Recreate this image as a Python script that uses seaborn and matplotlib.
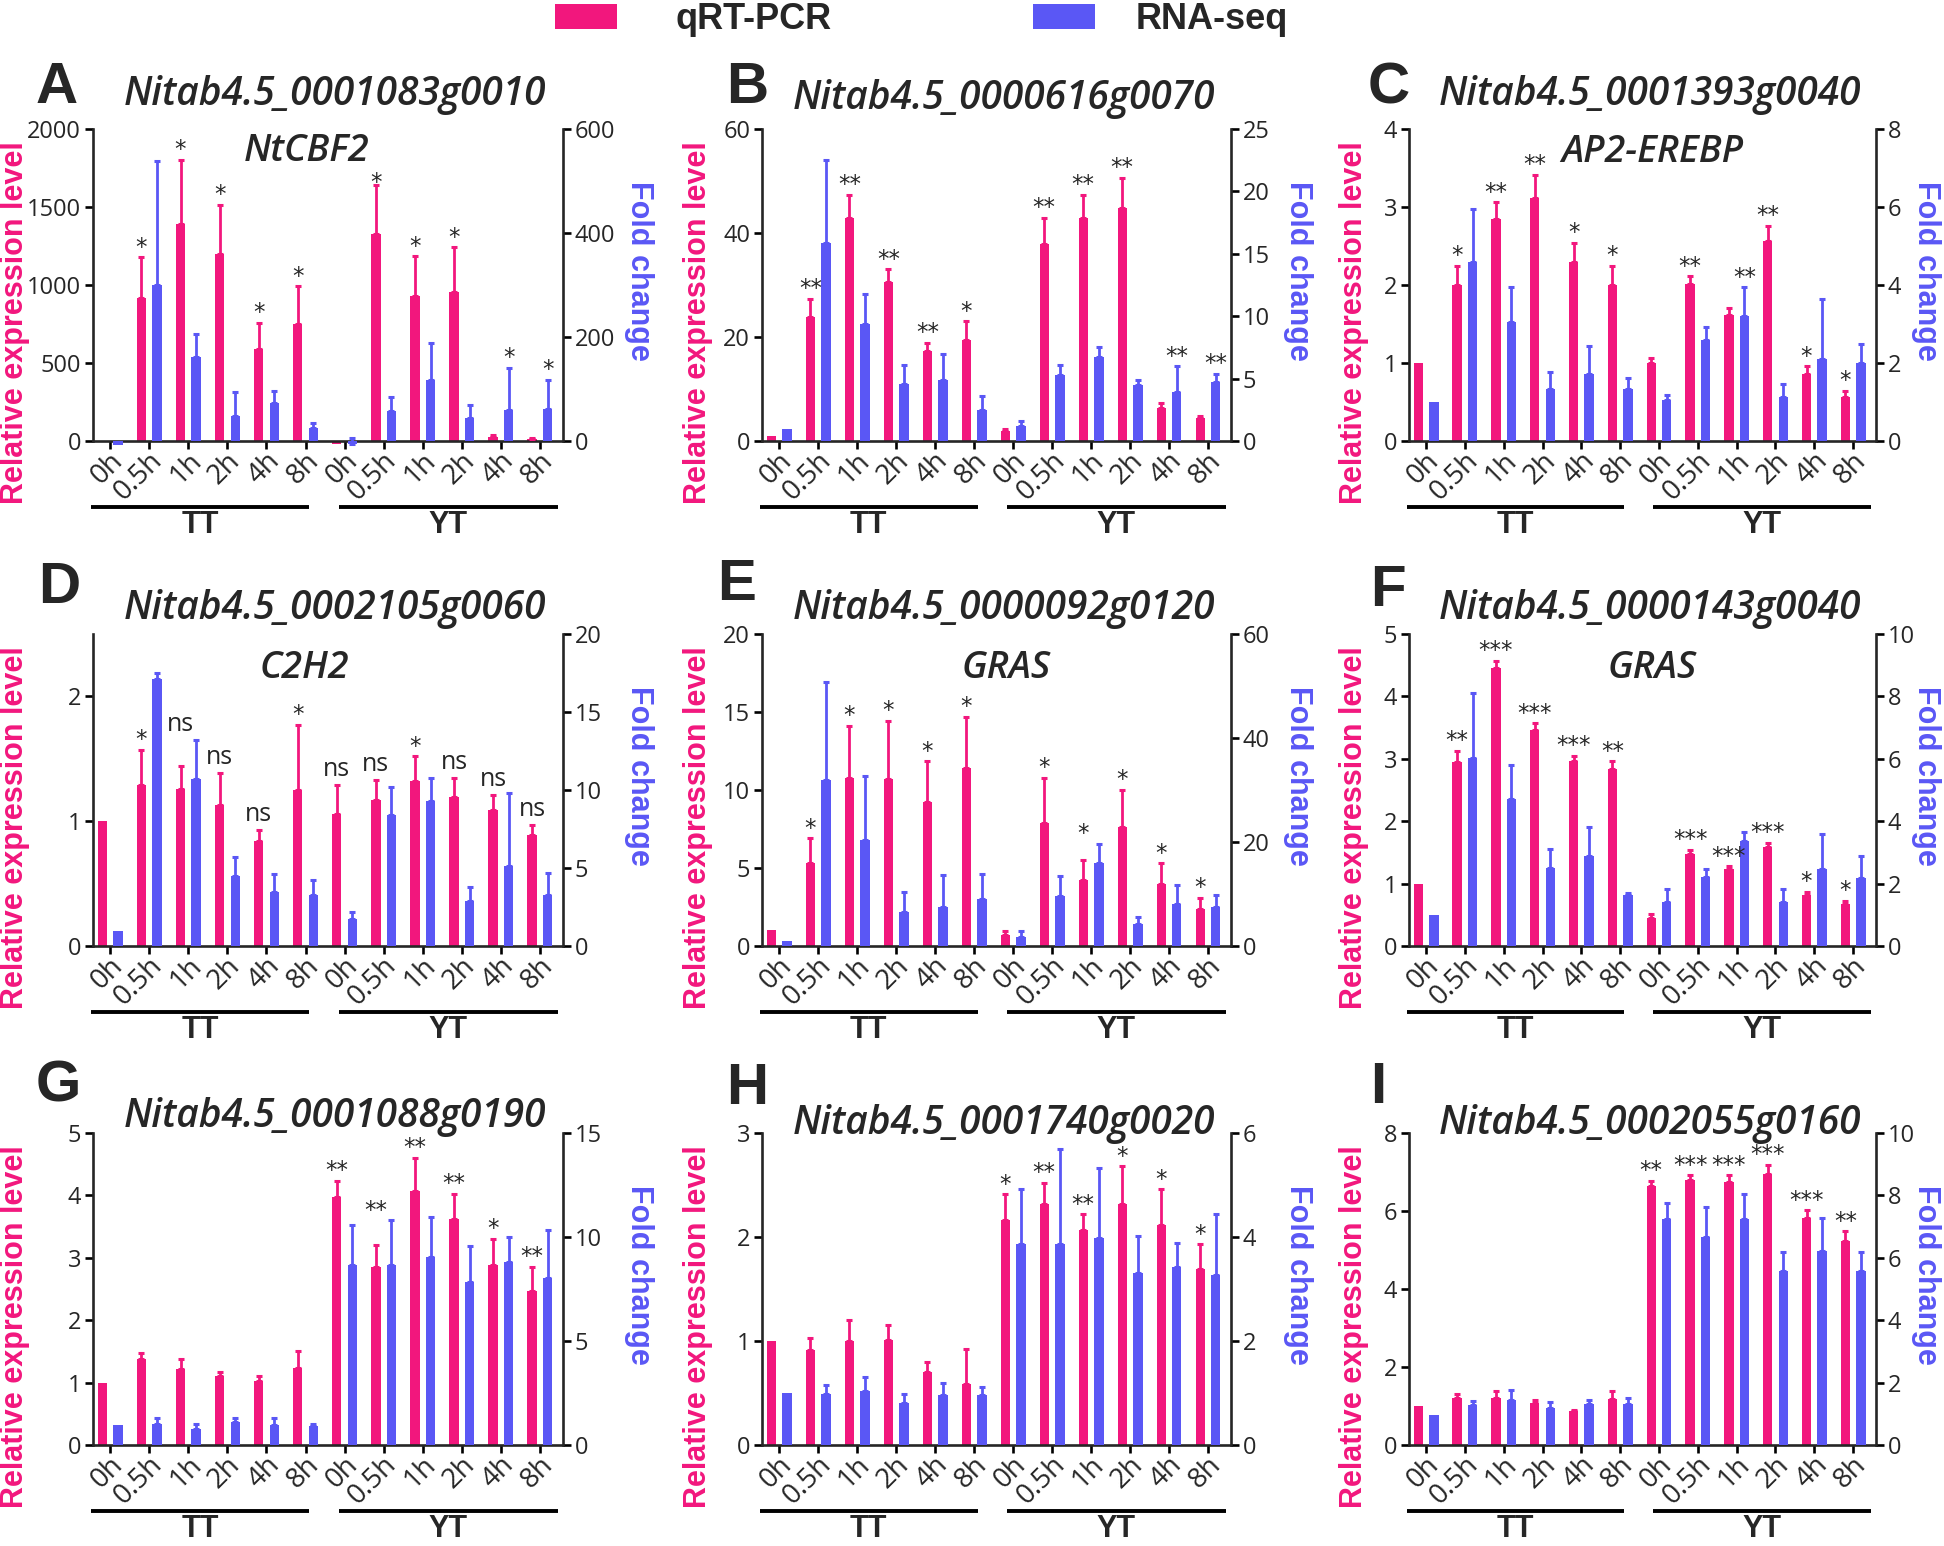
import numpy as np
import pandas as pd
import matplotlib
matplotlib.use("Agg")
import matplotlib.pyplot as plt
import matplotlib.transforms as mtransforms
from matplotlib import font_manager
from matplotlib.patches import Patch
import seaborn as sns

# ---------------- data ----------------
times = ["0h", "0.5h", "1h", "2h", "4h", "8h"]
groups = ["TT", "YT"]
series = ["qRT-PCR", "RNA-seq"]

A_gene, A_name = "Nitab4.5_0001083g0010", "NtCBF2"
A_qpcr = [1, 915, 1392, 1200, 588, 749, -20, 1324, 928, 955, 26, 11]
A_qpcr_err = [0, 263, 411, 314, 170, 243, 0, 316, 257, 287, 14, 7]
A_rna = [-8, 300, 162, 48, 74, 25, -6, 58, 118, 44, 60, 61]
A_rna_err = [0, 238, 43, 47, 22, 9, 11, 26, 70, 26, 81, 57]
A_sig = ["", "*", "*", "*", "*", "*", "", "*", "*", "*", "*", "*"]
A_ref = "qqqqqqqlqqrr"

B_gene, B_name = "Nitab4.5_0000616g0070", ""
B_qpcr = [1.0, 23.9, 42.8, 30.5, 17.4, 19.5, 1.9, 37.9, 42.8, 44.8, 6.4, 4.5]
B_qpcr_err = [0, 3.5, 4.6, 2.5, 1.5, 3.5, 0.4, 5.0, 4.6, 5.8, 0.9, 0.3]
B_rna = [1.0, 15.9, 9.4, 4.6, 4.9, 2.5, 1.2, 5.3, 6.7, 4.5, 3.9, 4.7]
B_rna_err = [0, 6.6, 2.4, 1.5, 2.1, 1.1, 0.4, 0.8, 0.8, 0.4, 2.1, 0.7]
B_sig = ["", "**", "**", "**", "**", "*", "", "**", "**", "**", "**", "**"]
B_ref = "qqqqqqqqqqrr"

C_gene, C_name = "Nitab4.5_0001393g0040", "AP2-EREBP"
C_qpcr = [1.0, 2.0, 2.85, 3.11, 2.3, 2.0, 1.0, 2.01, 1.62, 2.56, 0.86, 0.56]
C_qpcr_err = [0, 0.25, 0.21, 0.3, 0.24, 0.25, 0.07, 0.1, 0.09, 0.2, 0.1, 0.08]
C_rna = [1.0, 4.58, 3.06, 1.34, 1.72, 1.34, 1.05, 2.6, 3.21, 1.14, 2.1, 1.99]
C_rna_err = [0, 1.37, 0.88, 0.42, 0.71, 0.27, 0.13, 0.32, 0.73, 0.33, 1.55, 0.5]
C_sig = ["", "*", "**", "**", "*", "*", "", "**", "**", "**", "*", "*"]
C_ref = "qqqqqqqqrqqq"

D_gene, D_name = "Nitab4.5_0002105g0060", "C2H2"
D_qpcr = [1.0, 1.29, 1.26, 1.13, 0.84, 1.25, 1.06, 1.17, 1.32, 1.19, 1.09, 0.89]
D_qpcr_err = [0, 0.28, 0.18, 0.26, 0.09, 0.52, 0.23, 0.16, 0.2, 0.16, 0.12, 0.08]
D_rna = [0.95, 17.1, 10.7, 4.5, 3.45, 3.3, 1.74, 8.4, 9.3, 2.9, 5.1, 3.3]
D_rna_err = [0, 0.4, 2.5, 1.2, 1.15, 0.9, 0.43, 1.8, 1.5, 0.9, 4.7, 1.35]
D_sig = ["", "*", "ns", "ns", "ns", "*", "ns", "ns", "*", "ns", "ns", "ns"]
D_ref = "qqmqqqqqqqqq"

E_gene, E_name = "Nitab4.5_0000092g0120", "GRAS"
E_qpcr = [1.0, 5.3, 10.8, 10.7, 9.2, 11.4, 0.68, 7.9, 4.2, 7.6, 4.0, 2.35]
E_qpcr_err = [0, 1.6, 3.3, 3.75, 2.65, 3.3, 0.26, 2.9, 1.3, 2.4, 1.3, 0.75]
E_rna = [0.96, 31.9, 20.3, 6.5, 7.5, 9.1, 1.7, 9.6, 15.9, 4.3, 8.0, 7.5]
E_rna_err = [0, 18.9, 12.3, 3.9, 6.2, 4.8, 1.2, 3.8, 3.8, 1.3, 3.8, 2.4]
E_sig = ["", "*", "*", "*", "*", "*", "", "*", "*", "*", "*", "*"]
E_ref = "qqqqqqqqmqqq"

F_gene, F_name = "Nitab4.5_0000143g0040", "GRAS"
F_qpcr = [1.0, 2.95, 4.45, 3.46, 2.96, 2.83, 0.45, 1.47, 1.24, 1.59, 0.82, 0.68]
F_qpcr_err = [0, 0.18, 0.12, 0.11, 0.09, 0.13, 0.06, 0.07, 0.04, 0.06, 0.05, 0.04]
F_rna = [1.0, 6.04, 4.7, 2.51, 2.9, 1.64, 1.42, 2.21, 3.35, 1.41, 2.46, 2.19]
F_rna_err = [0, 2.06, 1.1, 0.6, 0.9, 0.07, 0.4, 0.25, 0.3, 0.43, 1.12, 0.7]
F_sig = ["", "**", "***", "***", "***", "**", "", "***", "***", "***", "*", "*"]
F_ref = "qqqqqqqqqqqq"

G_gene, G_name = "Nitab4.5_0001088g0190", ""
G_qpcr = [1.0, 1.38, 1.22, 1.1, 1.03, 1.24, 3.97, 2.86, 4.07, 3.62, 2.89, 2.47]
G_qpcr_err = [0, 0.1, 0.16, 0.07, 0.08, 0.27, 0.26, 0.35, 0.53, 0.41, 0.41, 0.39]
G_rna = [0.95, 1.01, 0.75, 1.09, 0.95, 0.9, 8.67, 8.64, 9.06, 7.84, 8.82, 8.01]
G_rna_err = [0, 0.31, 0.25, 0.23, 0.37, 0.13, 1.91, 2.16, 1.89, 1.72, 1.2, 2.33]
G_sig = ["", "", "", "", "", "", "**", "**", "**", "**", "*", "**"]
G_ref = "qqqqqqqmqqqq"

H_gene, H_name = "Nitab4.5_0001740g0020", ""
H_qpcr = [1.0, 0.91, 1.0, 1.01, 0.7, 0.59, 2.16, 2.32, 2.07, 2.32, 2.12, 1.69]
H_qpcr_err = [0, 0.12, 0.2, 0.14, 0.1, 0.33, 0.25, 0.2, 0.15, 0.36, 0.34, 0.24]
H_rna = [1.0, 0.98, 1.03, 0.8, 0.96, 0.96, 3.86, 3.87, 3.99, 3.31, 3.43, 3.26]
H_rna_err = [0, 0.18, 0.27, 0.18, 0.23, 0.15, 1.07, 1.82, 1.33, 0.71, 0.45, 1.18]
H_sig = ["", "", "", "", "", "", "*", "**", "**", "*", "*", "*"]
H_ref = "qqqqqqqqqqqq"

I_gene, I_name = "Nitab4.5_0002055g0160", ""
I_qpcr = [1.0, 1.2, 1.2, 1.07, 0.86, 1.18, 6.63, 6.8, 6.75, 6.95, 5.82, 5.24]
I_qpcr_err = [0, 0.12, 0.19, 0.08, 0.04, 0.2, 0.15, 0.12, 0.17, 0.23, 0.2, 0.24]
I_rna = [0.97, 1.28, 1.45, 1.18, 1.31, 1.31, 7.24, 6.66, 7.24, 5.59, 6.21, 5.57]
I_rna_err = [0, 0.14, 0.31, 0.19, 0.13, 0.19, 0.52, 0.96, 0.8, 0.61, 1.05, 0.63]
I_sig = ["", "", "", "", "", "", "**", "***", "***", "***", "***", "**"]
I_ref = "qqqqqqqqqqqq"

# axis ranges (left: relative expression, right: fold change)
A_left, A_right = [0, 500, 1000, 1500, 2000], [0, 200, 400, 600]
B_left, B_right = [0, 20, 40, 60], [0, 5, 10, 15, 20, 25]
C_left, C_right = [0, 1, 2, 3, 4], [0, 2, 4, 6, 8]
D_left, D_right = [0, 1, 2], [0, 5, 10, 15, 20]
E_left, E_right = [0, 5, 10, 15, 20], [0, 20, 40, 60]
F_left, F_right = [0, 1, 2, 3, 4, 5], [0, 2, 4, 6, 8, 10]
G_left, G_right = [0, 1, 2, 3, 4, 5], [0, 5, 10, 15]
H_left, H_right = [0, 1, 2, 3], [0, 2, 4, 6]
I_left, I_right = [0, 2, 4, 6, 8], [0, 2, 4, 6, 8, 10]

# ---------------- style ----------------
sns.set_style("ticks")
names = {f.name for f in font_manager.fontManager.ttflist}
TICKFONT = "Liberation Sans Narrow" if "Liberation Sans Narrow" in names else "Open Sans"
plt.rcParams["font.family"] = ["Open Sans", "DejaVu Sans"]
BOLD = ["Liberation Sans", "DejaVu Sans"]
PINK = "#F2177D"
BLUE = "#5A57F5"
PALETTE = {series[0]: PINK, series[1]: BLUE}

W, H = 1944, 1546
fig = plt.figure(figsize=(W / 100, H / 100), dpi=100)
fx = lambda px: px / W
fy = lambda py: 1 - py / H

COLS = [(93, 563), (762, 1231), (1409, 1876)]
ROWS = [(129, 441), (634, 946), (1133, 1445)]
YL_X = [15, 698, 1354]
YR_X = [639, 1298, 1926]

letters = "ABCDEFGHI"
g = globals()
LETTER_POS = {"A": (36, 103), "B": (726, 103), "C": (1368, 103),
              "D": (38, 603), "E": (717, 600), "F": (1370, 606),
              "G": (36, 1102), "H": (726, 1104), "I": (1370, 1103)}
TITLE_Y = {"A": 1.11, "B": 1.095, "C": 1.11, "D": 1.08, "E": 1.08,
           "F": 1.08, "G": 1.05, "H": 1.03, "I": 1.03}
NAME_POS = {"A": (0.455, 0.93), "C": (0.52, 0.925), "D": (0.45, 0.89),
            "E": (0.52, 0.89), "F": (0.52, 0.89)}

keys = [f"{gr} {t}" for gr in groups for t in times]
LW = 1.9

for idx, L in enumerate(letters):
    r, c = divmod(idx, 3)
    x0, x1 = COLS[c]
    y0, y1 = ROWS[r]
    ax = fig.add_axes([fx(x0), fy(y1), (x1 - x0) / W, (y1 - y0) / H])
    q, qe = g[f"{L}_qpcr"], g[f"{L}_qpcr_err"]
    rv, re_ = g[f"{L}_rna"], g[f"{L}_rna_err"]
    sig, ref = g[f"{L}_sig"], g[f"{L}_ref"]
    lt, rt = g[f"{L}_left"], g[f"{L}_right"]
    lmax = 2.5 if L == "D" else lt[-1]
    rmax = rt[-1]

    dq = pd.DataFrame({"key": keys, "value": q, "series": series[0]})
    dr = pd.DataFrame({"key": keys, "value": rv, "series": series[1]})
    sns.barplot(data=dq, x="key", y="value", hue="series", hue_order=series,
                order=keys, palette=PALETTE, width=0.8, gap=0.4, saturation=1,
                dodge=True, errorbar=None, legend=False, ax=ax)
    ax2 = ax.twinx()
    sns.barplot(data=dr, x="key", y="value", hue="series", hue_order=series,
                order=keys, palette=PALETTE, width=0.8, gap=0.4, saturation=1,
                dodge=True, errorbar=None, legend=False, ax=ax2)

    centers = {}
    for a, vals, errs, col, tag in ((ax, q, qe, PINK, "q"), (ax2, rv, re_, BLUE, "r")):
        bars = sorted(a.patches, key=lambda p: p.get_x())
        for b in bars:
            b.set_clip_on(False)
            b.set_linewidth(0)
        xs = np.array([b.get_x() + b.get_width() / 2 for b in bars])
        centers[tag] = xs
        v = np.array(vals, float)
        e = np.array(errs, float)
        m = e > 0
        a.errorbar(xs[m], v[m], yerr=[np.zeros(m.sum()), e[m]], fmt="none",
                   ecolor=col, elinewidth=2.0, capsize=2.4, capthick=2.2,
                   clip_on=False, zorder=3)

    ax.set_xlim(-0.44, 11.59)
    ax.set_ylim(0, lmax)
    ax2.set_ylim(0, rmax)
    for a in (ax, ax2):
        a.set_xlabel("")
        a.set_ylabel("")
        a.tick_params(axis="both", direction="out", length=5.5, width=LW,
                      pad=3, color="black")
        a.tick_params(axis="y", labelsize=17)
    ax.set_yticks(lt)
    ax.set_yticklabels([str(t) for t in lt], family=TICKFONT)
    ax2.set_yticks(rt)
    ax2.set_yticklabels([str(t) for t in rt], family=TICKFONT)
    ax.set_xticks(range(12))
    ax.set_xticklabels(times * 2, rotation=45, ha="right", va="center",
                       rotation_mode="anchor", family=TICKFONT, fontsize=20)
    off = mtransforms.ScaledTranslation(9 / 100, -4 / 100, fig.dpi_scale_trans)
    for lab in ax.get_xticklabels():
        lab.set_transform(lab.get_transform() + off)
    for s in ("top", "right"):
        ax.spines[s].set_visible(False)
    for s in ("top", "left", "bottom"):
        ax2.spines[s].set_visible(False)
    for s in ("left", "bottom"):
        ax.spines[s].set_linewidth(LW)
    ax2.spines["right"].set_linewidth(LW)

    # significance marks
    for i, (s, rf) in enumerate(zip(sig, ref)):
        if not s:
            continue
        qtop = q[i] + qe[i]
        rtop_l = (rv[i] + re_[i]) * lmax / rmax
        dy = -1
        if rf == "r":
            xx, yy = centers["r"][i], rtop_l
        elif rf == "m":
            xx, yy = centers["q"][i], max(qtop, rtop_l)
        else:
            xx, yy = centers["q"][i], qtop
            if rf == "l":
                dy = -6.5
        if s == "ns":
            ax2.annotate(s, (xx, yy * rmax / lmax), xytext=(0, 2),
                         textcoords="offset points", ha="center", va="bottom",
                         fontsize=18, family=TICKFONT, annotation_clip=False)
        else:
            ax2.annotate(s, (xx, yy * rmax / lmax), xytext=(0, dy),
                         textcoords="offset points", ha="center", va="bottom",
                         fontsize=16.5, family="DejaVu Sans", annotation_clip=False)

    # group bars TT / YT
    trans = mtransforms.blended_transform_factory(ax.transData, ax.transAxes)
    for (gx0, gx1), gname in zip([(-0.5, 5.1), (5.85, 11.45)], groups):
        ax.plot([gx0, gx1], [-0.213, -0.213], transform=trans, color="black",
                lw=2.8, clip_on=False, solid_capstyle="butt")
        ax.text((gx0 + gx1) / 2, -0.27, gname, transform=trans, ha="center",
                va="center", fontsize=22, fontweight="bold", family=BOLD)

    # titles
    ax.text(0.515, TITLE_Y[L], g[f"{L}_gene"], transform=ax.transAxes,
            ha="center", va="center", fontsize=28, style="italic",
            fontweight="semibold")
    if g[f"{L}_name"]:
        nx, ny = NAME_POS[L]
        ax.text(nx, ny, g[f"{L}_name"], transform=ax.transAxes, ha="center",
                va="center", fontsize=27, style="italic", fontweight="semibold")

    # axis titles
    fig.text(fx(YL_X[c]), fy(y1 - 118), "Relative expression level", rotation=90,
             ha="center", va="center", color=PINK, fontsize=22,
             fontweight="bold", family=BOLD)
    fig.text(fx(YR_X[c]), fy(y1 - 170), "Fold change", rotation=270,
             ha="center", va="center", color=BLUE, fontsize=22,
             fontweight="bold", family=BOLD)

    lx, ly = LETTER_POS[L]
    fig.text(fx(lx), fy(ly), L, ha="left", va="baseline", fontsize=42,
             fontweight="bold", family=BOLD)

# legend
for xb, lab, col, pad in ((555, series[0], PINK, 58), (1033, series[1], BLUE, 40)):
    fig.legend(handles=[Patch(facecolor=col, edgecolor="none")], labels=[lab],
               loc="center left", bbox_to_anchor=(fx(xb), fy(19.5)),
               frameon=False, borderpad=0, borderaxespad=0,
               handlelength=62 / 36, handleheight=25 / 36, handletextpad=pad / 36,
               prop={"family": "Liberation Sans", "weight": "bold", "size": 26})

fig.savefig("out.png", dpi=100)
